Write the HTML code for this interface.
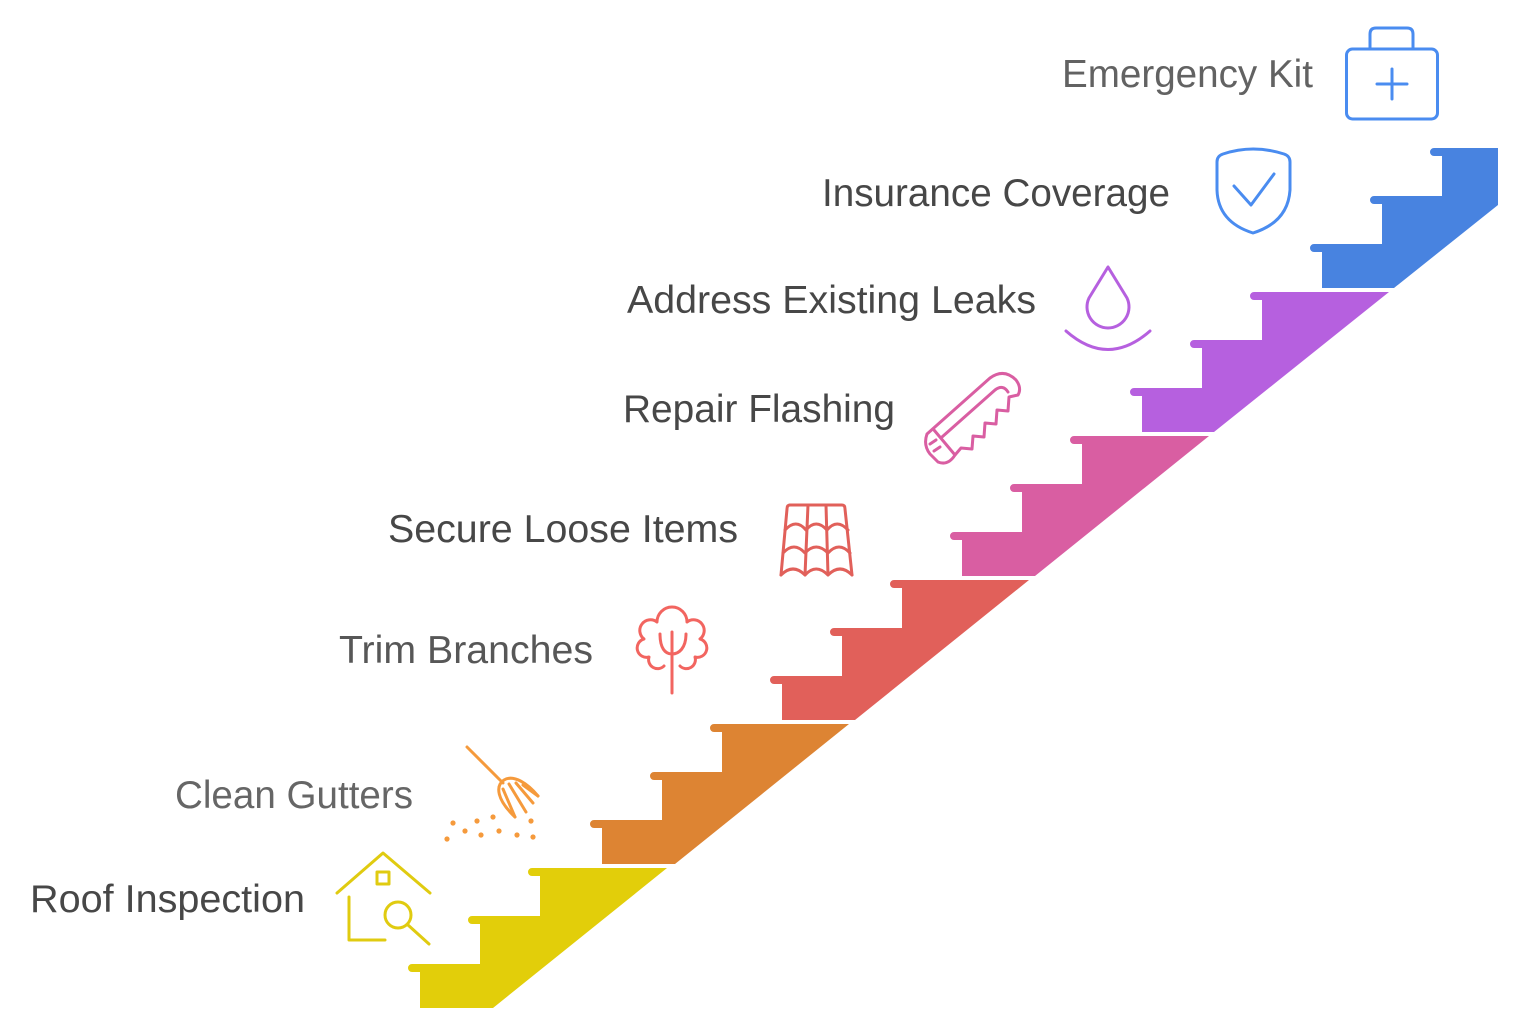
<!DOCTYPE html>
<html>
<head>
<meta charset="utf-8">
<style>
  html, body { margin: 0; padding: 0; background: #ffffff; }
  body { width: 1526px; height: 1036px; overflow: hidden; }
  svg { display: block; }
  text { font-family: "Liberation Sans", Arial, sans-serif; font-size: 39px; }
</style>
</head>
<body>
<svg width="1526" height="1036" viewBox="0 0 1526 1036" xmlns="http://www.w3.org/2000/svg">
  <rect width="1526" height="1036" fill="#ffffff"/>

  <!-- Staircase segments -->
  <path fill="#E2CE0A" d="M420,1008 V972 H412 A4,4 0 0 1 412,964 H480 V924 H472 A4,4 0 0 1 472,916 H540 V876 H532 A4,4 0 0 1 532,868 H667 L493,1008 Z"/>
  <path fill="#DD8433" d="M602,864 V828 H594 A4,4 0 0 1 594,820 H662 V780 H654 A4,4 0 0 1 654,772 H722 V732 H714 A4,4 0 0 1 714,724 H849 L675,864 Z"/>
  <path fill="#E1605A" d="M782,720 V684 H774 A4,4 0 0 1 774,676 H842 V636 H834 A4,4 0 0 1 834,628 H902 V588 H894 A4,4 0 0 1 894,580 H1029 L855,720 Z"/>
  <path fill="#D95EA2" d="M962,576 V540 H954 A4,4 0 0 1 954,532 H1022 V492 H1014 A4,4 0 0 1 1014,484 H1082 V444 H1074 A4,4 0 0 1 1074,436 H1209 L1035,576 Z"/>
  <path fill="#B660DF" d="M1142,432 V396 H1134 A4,4 0 0 1 1134,388 H1202 V348 H1194 A4,4 0 0 1 1194,340 H1262 V300 H1254 A4,4 0 0 1 1254,292 H1389 L1214,432 Z"/>
  <path fill="#4883E0" d="M1322,288 V252 H1314 A4,4 0 0 1 1314,244 H1382 V204 H1374 A4,4 0 0 1 1374,196 H1442 V156 H1434 A4,4 0 0 1 1434,148 H1498 V205 L1394,288 Z"/>

  <!-- Labels -->
  <text x="1062" y="87" fill="#626262" textLength="251" lengthAdjust="spacingAndGlyphs">Emergency Kit</text>
  <text x="822" y="206" fill="#474747" textLength="348" lengthAdjust="spacingAndGlyphs">Insurance Coverage</text>
  <text x="627" y="313" fill="#474747" textLength="409" lengthAdjust="spacingAndGlyphs">Address Existing Leaks</text>
  <text x="623" y="422" fill="#474747" textLength="272" lengthAdjust="spacingAndGlyphs">Repair Flashing</text>
  <text x="388" y="542" fill="#474747" textLength="350" lengthAdjust="spacingAndGlyphs">Secure Loose Items</text>
  <text x="339" y="663" fill="#575757" textLength="254" lengthAdjust="spacingAndGlyphs">Trim Branches</text>
  <text x="175" y="808" fill="#666666" textLength="238" lengthAdjust="spacingAndGlyphs">Clean Gutters</text>
  <text x="30" y="912" fill="#474747" textLength="275" lengthAdjust="spacingAndGlyphs">Roof Inspection</text>

  <!-- Emergency kit icon -->
  <g fill="none" stroke="#4A8CF0" stroke-width="3" stroke-linecap="round" stroke-linejoin="round">
    <rect x="1346.5" y="49" width="91" height="70" rx="6"/>
    <path d="M1370,49 V34 Q1370,28 1376,28 H1407 Q1413,28 1413,34 V49"/>
    <path d="M1377,84 H1407 M1392,69 V99"/>
  </g>

  <!-- Shield icon -->
  <g fill="none" stroke="#4A8CF0" stroke-width="3" stroke-linecap="round" stroke-linejoin="round">
    <path d="M1217,162 Q1217,156 1223,154 Q1253,144 1284,154 Q1290,156 1290,162 V190 Q1288,222 1253,233 Q1218,222 1217,190 Z"/>
    <path d="M1234,186 L1251,205 L1274,174"/>
  </g>

  <!-- Drop icon -->
  <g fill="none" stroke="#B660DF" stroke-width="3" stroke-linecap="round" stroke-linejoin="round">
    <path d="M1108,267 L1089,298 A21,21 0 1 0 1127,298 Z"/>
    <path d="M1066,331 Q1108,368 1150,331"/>
  </g>

  <!-- Saw icon -->
  <g fill="none" stroke="#D95EA2" stroke-width="3" stroke-linecap="round" stroke-linejoin="round">
    <path d="M927,434 L990,378 Q1004,368 1016,380 Q1022,388 1018,395 L1009,397 L1008,411 L997,410 L996,424 L985,423 L984,437 L973,436 L972,449 L961,448 L955,455 Q948,466 938,462 L930,454 Q923,445 927,434 Z"/>
    <path d="M942,437 L995,390 Q1003,384 1008,392"/>
    <path d="M934,430 L955,455"/>
    <path d="M930,444 L936,440 M934,451 L940,447"/>
  </g>

  <!-- Roof tiles icon -->
  <g fill="none" stroke="#E1605A" stroke-width="3" stroke-linecap="round" stroke-linejoin="round">
    <path d="M790,505 H842 Q845,505 845,509 L852,575"/>
    <path d="M790,505 Q787,505 787,509 L781,575"/>
    <path d="M808,505 L805,575 M826,505 L828,575"/>
    <path d="M785,530 Q796,518 806,530 Q816,518 827,530 Q837,518 848,530"/>
    <path d="M783,553 Q794,541 805,553 Q816,541 828,553 Q839,541 850,553"/>
    <path d="M781,575 Q793,563 805,575 Q816,563 828,575 Q840,563 852,575"/>
  </g>

  <!-- Tree icon -->
  <g fill="none" stroke="#F26560" stroke-width="3" stroke-linecap="round" stroke-linejoin="round">
    <path d="M664,666 A9,9 0 0 1 649,657 A9,9 0 0 1 644,639 A9,9 0 0 1 657,622 A15,15 0 0 1 687,622 A9,9 0 0 1 700,639 A9,9 0 0 1 695,657 A9,9 0 0 1 680,666"/>
    <path d="M672,632 V693"/>
    <path d="M660,634 C660,648 665,654 672,654 C679,654 686,648 686,634"/>
  </g>

  <!-- Broom icon -->
  <g fill="none" stroke="#F59A3C" stroke-width="3" stroke-linecap="round" stroke-linejoin="round">
    <path d="M467,747 L503,783"/>
    <path d="M515,817 C497,800 495,786 504,780 C514,774 528,784 538,796"/>
    <path d="M503,789 L515,817 M509,784 L526,812 M516,783 L533,803 M523,785 L538,796"/>
  </g>
  <g fill="#F59A3C">
    <circle cx="453" cy="823" r="2.6"/>
    <circle cx="477" cy="821" r="2.6"/>
    <circle cx="493" cy="817" r="2.6"/>
    <circle cx="531" cy="821" r="2.6"/>
    <circle cx="465" cy="831" r="2.6"/>
    <circle cx="481" cy="835" r="2.6"/>
    <circle cx="499" cy="831" r="2.6"/>
    <circle cx="517" cy="835" r="2.6"/>
    <circle cx="533" cy="837" r="2.6"/>
    <circle cx="447" cy="839" r="2.6"/>
  </g>

  <!-- House inspection icon -->
  <g fill="none" stroke="#E0CB10" stroke-width="3" stroke-linecap="round" stroke-linejoin="round">
    <path d="M337,893 L383,853 L430,893"/>
    <path d="M349,897 V940 H385"/>
    <rect x="377" y="872" width="12" height="12"/>
    <circle cx="398" cy="915" r="13"/>
    <path d="M408,925 L429,944"/>
  </g>
</svg>
</body>
</html>
